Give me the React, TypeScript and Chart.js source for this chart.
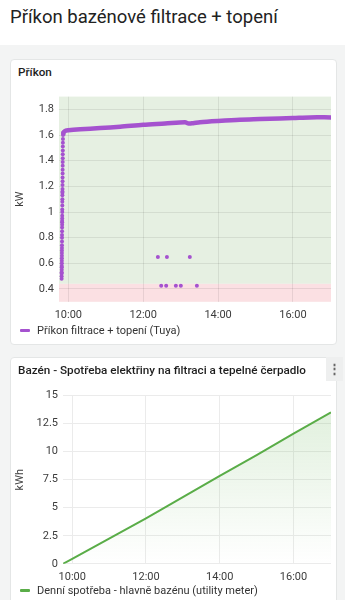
import React, { useEffect, useRef } from 'react';
import Chart from 'chart.js/auto';

const FONT = 'Roboto, "Noto Sans", sans-serif';
const PURPLE = '#a552cf';
const GREEN = '#5aad48';

const X_MIN = 585;
const X_MAX = 1021;
const TIME_TICKS = [600, 720, 840, 960];
const TIME_LABELS = ['10:00', '12:00', '14:00', '16:00'];

const POWER_TICKS = [0.4, 0.6, 0.8, 1, 1.2, 1.4, 1.6, 1.8];
const POWER_THRESHOLD = 0.44;

const RISE_TIMES = [589.2, 589.2, 589.3, 589.3, 589.4, 589.4, 589.4, 589.5, 589.5, 589.5, 589.6, 589.6, 589.6, 589.7, 589.7, 589.8, 589.8, 589.8, 589.9, 589.9, 590.0, 590.0, 590.0, 590.1, 590.1, 590.2, 590.2, 590.3, 590.3, 590.4, 590.4, 590.5, 590.5, 590.6, 590.6, 590.7, 590.7, 590.8, 590.8, 590.9, 590.9, 591.0, 591.0, 591.1, 591.1, 591.2, 591.3, 591.4, 591.6];
const RISE_VALUES = [0.48, 0.5, 0.52, 0.53, 0.55, 0.57, 0.58, 0.6, 0.62, 0.64, 0.66, 0.68, 0.7, 0.72, 0.74, 0.77, 0.8, 0.82, 0.85, 0.88, 0.9, 0.92, 0.93, 0.95, 0.97, 1.0, 1.02, 1.05, 1.08, 1.1, 1.13, 1.15, 1.16, 1.18, 1.21, 1.24, 1.27, 1.3, 1.33, 1.36, 1.39, 1.42, 1.45, 1.48, 1.51, 1.54, 1.57, 1.6, 1.62];

const CURVE_TIMES = [591.6, 593, 596, 600, 619, 651, 683, 720, 755, 787, 793, 800, 811, 840, 875, 907, 939, 960, 987, 1021];
const CURVE_VALUES = [1.6, 1.625, 1.635, 1.638, 1.645, 1.655, 1.665, 1.68, 1.69, 1.7, 1.69, 1.693, 1.7, 1.71, 1.72, 1.725, 1.73, 1.733, 1.738, 1.738];

const DIP_TIMES = [743.5, 758, 794.7, 748.8, 756.8, 772.3, 780.3, 806];
const DIP_VALUES = [0.65, 0.65, 0.65, 0.426, 0.426, 0.426, 0.426, 0.426];

const ENERGY_TIMES = [585, 600, 660, 720, 780, 840, 900, 960, 1021];
const ENERGY_VALUES = [0, 0.45, 2.25, 4.06, 5.95, 7.85, 9.7, 11.6, 13.5];
const ENERGY_TICKS = [0, 2.5, 5, 7.5, 10, 12.5, 15];

const POWER_LABEL = 'Příkon filtrace + topení (Tuya)';
const ENERGY_LABEL = 'Denní spotřeba - hlavně bazénu (utility meter)';

const toPts = (xs: number[], ys: number[]) => xs.map((x, i) => ({ x, y: ys[i] }));

const zonesPlugin = {
  id: 'zones',
  beforeDraw(chart: any) {
    const { ctx, chartArea, scales } = chart;
    const { left, right, top, bottom } = chartArea;
    const yT = scales.y.getPixelForValue(POWER_THRESHOLD);
    ctx.save();
    ctx.fillStyle = '#e6f0e2';
    ctx.fillRect(left, top, right - left, yT - top);
    ctx.fillStyle = '#fbe0e3';
    ctx.fillRect(left, yT, right - left, bottom - yT);
    ctx.restore();
  },
};

function xScale(gridColor: string) {
  return {
    type: 'linear' as const,
    min: X_MIN,
    max: X_MAX,
    afterBuildTicks: (s: any) => {
      s.ticks = TIME_TICKS.map((v) => ({ value: v }));
    },
    ticks: {
      callback: (v: any) => TIME_LABELS[TIME_TICKS.indexOf(Number(v))] ?? '',
      color: '#3c3c3c',
      font: { family: FONT, size: 11 },
      padding: 7,
      maxRotation: 0,
      autoSkip: false,
    },
    grid: { color: gridColor, drawTicks: false },
    border: { display: false },
  };
}

function PowerChart() {
  const ref = useRef<HTMLCanvasElement>(null);
  useEffect(() => {
    const chart = new Chart(ref.current!, {
      type: 'line',
      data: {
        datasets: [
          {
            label: POWER_LABEL,
            data: toPts(CURVE_TIMES, CURVE_VALUES),
            borderColor: PURPLE,
            backgroundColor: PURPLE,
            borderWidth: 4.5,
            pointRadius: 0,
            tension: 0.3,
          },
          {
            label: 'points',
            data: [...toPts(RISE_TIMES, RISE_VALUES), ...toPts(DIP_TIMES, DIP_VALUES)],
            borderColor: PURPLE,
            backgroundColor: PURPLE,
            showLine: false,
            pointRadius: 2,
            pointBorderWidth: 0,
          },
        ],
      },
      options: {
        responsive: true,
        maintainAspectRatio: false,
        animation: false,
        layout: { padding: { top: 6, right: 6, left: 0, bottom: 0 } },
        plugins: {
          legend: { display: false },
          tooltip: { enabled: false },
        },
        scales: {
          x: xScale('rgba(0,0,0,0.08)'),
          y: {
            type: 'linear',
            min: 0.3,
            max: 1.9,
            afterBuildTicks: (s: any) => {
              s.ticks = POWER_TICKS.map((v) => ({ value: v }));
            },
            afterFit: (s: any) => {
              s.width = 49;
            },
            ticks: {
              callback: (v: any) => String(Math.round(Number(v) * 10) / 10),
              color: '#3c3c3c',
              font: { family: FONT, size: 11 },
              padding: 5,
            },
            title: { display: true, text: 'kW', color: '#3c3c3c', font: { family: FONT, size: 11 }, padding: { top: 4, bottom: 0 } },
            grid: { color: 'rgba(0,0,0,0.08)', drawTicks: false },
            border: { display: false },
          },
        },
      },
      plugins: [zonesPlugin],
    });
    return () => chart.destroy();
  }, []);
  return <canvas ref={ref} />;
}

function EnergyChart() {
  const ref = useRef<HTMLCanvasElement>(null);
  useEffect(() => {
    const chart = new Chart(ref.current!, {
      type: 'line',
      data: {
        datasets: [
          {
            label: ENERGY_LABEL,
            data: toPts(ENERGY_TIMES, ENERGY_VALUES),
            borderColor: GREEN,
            borderWidth: 2,
            pointRadius: 0,
            fill: 'origin',
            backgroundColor: (c: any) => {
              const area = c.chart.chartArea;
              if (!area) return 'rgba(0,0,0,0)';
              const g = c.chart.ctx.createLinearGradient(0, area.top, 0, area.bottom);
              g.addColorStop(0, 'rgba(90,173,72,0.2)');
              g.addColorStop(1, 'rgba(90,173,72,0)');
              return g;
            },
          },
        ],
      },
      options: {
        responsive: true,
        maintainAspectRatio: false,
        animation: false,
        layout: { padding: { top: 8, right: 6, left: 0, bottom: 0 } },
        plugins: {
          legend: { display: false },
          tooltip: { enabled: false },
        },
        scales: {
          x: xScale('#ebebeb'),
          y: {
            type: 'linear',
            min: 0,
            max: 15,
            afterBuildTicks: (s: any) => {
              s.ticks = ENERGY_TICKS.map((v) => ({ value: v }));
            },
            afterFit: (s: any) => {
              s.width = 53;
            },
            ticks: {
              callback: (v: any) => String(v),
              color: '#3c3c3c',
              font: { family: FONT, size: 11 },
              padding: 5,
            },
            title: { display: true, text: 'kWh', color: '#3c3c3c', font: { family: FONT, size: 11 }, padding: { top: 4, bottom: 0 } },
            grid: { color: '#ebebeb', drawTicks: false },
            border: { display: false },
          },
        },
      },
    });
    return () => chart.destroy();
  }, []);
  return <canvas ref={ref} />;
}

function Legend({ top, color, text }: { top: number; color: string; text: string }) {
  return (
    <div style={{ position: 'absolute', left: 20, top: top - 7, height: 14, display: 'flex', alignItems: 'center', whiteSpace: 'nowrap' }}>
      <div style={{ width: 10, height: 3, background: color, borderRadius: 1, marginRight: 7 }} />
      <span style={{ fontFamily: FONT, fontSize: 11, color: '#333' }}>{text}</span>
    </div>
  );
}

export default function App() {
  useEffect(() => {
    document.body.style.margin = '0';
  }, []);
  const panel: React.CSSProperties = {
    position: 'absolute',
    left: 10,
    width: 327,
    background: '#fff',
    border: '1px solid #e4e6e6',
    borderRadius: 4,
    boxSizing: 'border-box',
  };
  const panelTitle: React.CSSProperties = {
    position: 'absolute',
    left: 7,
    top: 5,
    fontFamily: FONT,
    fontSize: 11.7,
    fontWeight: 500,
    color: '#1e1e1e',
    whiteSpace: 'nowrap',
  };
  return (
    <div style={{ position: 'relative', width: 345, height: 600, overflow: 'hidden', background: '#f3f4f4', fontFamily: FONT }}>
      <div style={{ position: 'absolute', left: 0, top: 0, width: 345, height: 45, background: '#fff' }}>
        <div style={{ position: 'absolute', left: 10, top: 6, fontSize: 18.5, color: '#222', whiteSpace: 'nowrap' }}>
          Příkon bazénové filtrace + topení
        </div>
      </div>
      <div style={{ ...panel, top: 59, height: 286 }}>
        <div style={panelTitle}>Příkon</div>
      </div>
      <div style={{ position: 'absolute', left: 10, top: 85, width: 327, height: 244 }}>
        <PowerChart />
      </div>
      <Legend top={330} color={PURPLE} text={POWER_LABEL} />
      <div style={{ ...panel, top: 357, height: 260 }}>
        <div style={panelTitle}>Bazén - Spotřeba elektřiny na filtraci a tepelné čerpadlo</div>
      </div>
      <div
        style={{
          position: 'absolute',
          left: 326,
          top: 357,
          width: 17,
          height: 24,
          background: '#eeefef',
          color: '#666',
          fontSize: 13,
          lineHeight: '24px',
          textAlign: 'center',
          fontWeight: 700,
        }}
      >
        ⋮
      </div>
      <div style={{ position: 'absolute', left: 10, top: 384, width: 327, height: 207 }}>
        <EnergyChart />
      </div>
      <Legend top={590} color={GREEN} text={ENERGY_LABEL} />
    </div>
  );
}
